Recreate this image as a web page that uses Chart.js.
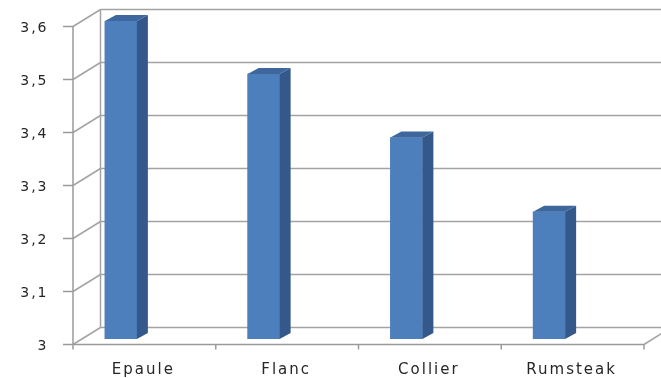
<!DOCTYPE html>
<html>
<head>
<meta charset="utf-8">
<script src="https://cdn.jsdelivr.net/npm/chart.js@4/dist/chart.umd.min.js"></script>
<style>
  html, body { margin: 0; padding: 0; background: #ffffff; }
  #wrap { width: 661px; height: 378px; }
</style>
</head>
<body>
<div id="wrap"><canvas id="c" width="661" height="378"></canvas></div>
<script>
// Values per cut
const categories = ['Epaule', 'Flanc', 'Collier', 'Rumsteak'];
const values = [3.6, 3.5, 3.38, 3.24];

// Value axis ticks (French decimal comma)
const yTickValues = [3, 3.1, 3.2, 3.3, 3.4, 3.5, 3.6];
const yTickLabels = ['3', '3,1', '3,2', '3,3', '3,4', '3,5', '3,6'];

// 3D look: front plane offset from the bar plane, wall depth, bar depth
const FRONT_DX = 23.5, FRONT_DY = 5.5;
const WALL_DX = 27.5, WALL_DY = -17;
const BAR_DX = 11, BAR_DY = -6;

const GRID = '#a3a3a3';
const AXIS = '#9a9a9a';
const BAR_FRONT = '#4D7FBC';
const BAR_SIDE = '#34588A';
const BAR_TOP = '#3D679D';

function line(ctx, x1, y1, x2, y2) {
  ctx.beginPath();
  ctx.moveTo(x1, y1);
  ctx.lineTo(x2, y2);
  ctx.stroke();
}

// Walls, floor, gridlines and tick marks of the 3D frame
const frame3d = {
  id: 'frame3d',
  beforeDraw(chart) {
    chart.ctx.letterSpacing = '2px';
  },
  beforeDatasetsDraw(chart) {
    const ctx = chart.ctx;
    const xs = chart.scales.x, ys = chart.scales.y;
    const x0 = xs.left + FRONT_DX, x1 = xs.right + FRONT_DX;
    const yAt = v => ys.getPixelForValue(v) + FRONT_DY;
    const yMin = yAt(yTickValues[0]);
    const yMax = yAt(yTickValues[yTickValues.length - 1]);
    ctx.save();
    ctx.lineCap = 'butt';
    ctx.lineWidth = 1.5;
    ctx.strokeStyle = GRID;
    yTickValues.forEach(v => {
      const y = yAt(v);
      line(ctx, x0, y, x0 + WALL_DX, y + WALL_DY);
      line(ctx, x0 + WALL_DX, y + WALL_DY, x1 + WALL_DX + 20, y + WALL_DY);
    });
    // back wall left edge
    line(ctx, x0 + WALL_DX, yMax + WALL_DY, x0 + WALL_DX, yMin + WALL_DY);
    // floor right edge
    line(ctx, x1, yMin, x1 + WALL_DX, yMin + WALL_DY);

    ctx.strokeStyle = AXIS;
    // value axis and tick marks
    line(ctx, x0, yMax, x0, yMin);
    yTickValues.forEach(v => {
      const y = yAt(v);
      line(ctx, x0 - 10, y, x0, y);
    });
    // category axis and tick marks at category boundaries
    line(ctx, x0, yMin, x1, yMin);
    const n = categories.length;
    for (let i = 0; i <= n; i++) {
      const x = x0 + (x1 - x0) * i / n;
      line(ctx, x, yMin, x, yMin + 5);
    }
    ctx.restore();
  },
  afterDatasetsDraw(chart) {
    const ctx = chart.ctx;
    const meta = chart.getDatasetMeta(0);
    ctx.save();
    meta.data.forEach(el => {
      const { x, y, base, width } = el.getProps(['x', 'y', 'base', 'width'], true);
      const l = x - width / 2, r = x + width / 2;
      // side face
      ctx.fillStyle = BAR_SIDE;
      ctx.beginPath();
      ctx.moveTo(r, y);
      ctx.lineTo(r + BAR_DX, y + BAR_DY);
      ctx.lineTo(r + BAR_DX, base + BAR_DY);
      ctx.lineTo(r, base);
      ctx.closePath();
      ctx.fill();
      // top face
      ctx.fillStyle = BAR_TOP;
      ctx.beginPath();
      ctx.moveTo(l, y);
      ctx.lineTo(l + BAR_DX, y + BAR_DY);
      ctx.lineTo(r + BAR_DX, y + BAR_DY);
      ctx.lineTo(r, y);
      ctx.closePath();
      ctx.fill();
    });
    ctx.restore();
  }
};

new Chart(document.getElementById('c'), {
  type: 'bar',
  data: {
    labels: categories,
    datasets: [{
      data: values,
      base: 3,
      backgroundColor: BAR_FRONT,
      borderWidth: 0,
      barThickness: 32
    }]
  },
  options: {
    responsive: false,
    animation: false,
    events: [],
    layout: { padding: { top: 21, right: 40.5, left: 0, bottom: 0 } },
    plugins: {
      legend: { display: false },
      tooltip: { enabled: false }
    },
    scales: {
      x: {
        grid: { display: false, drawTicks: false },
        border: { display: false },
        ticks: {
          color: '#262626',
          font: { family: 'DejaVu Sans', size: 15 },
          padding: 22,
          labelOffset: FRONT_DX - 1,
          maxRotation: 0,
          autoSkip: false
        },
        afterFit(scale) { scale.height = 39; }
      },
      y: {
        min: 3,
        max: 3.6,
        grid: { display: false, drawTicks: false },
        border: { display: false },
        afterBuildTicks(scale) {
          scale.ticks = yTickValues.map(v => ({ value: v }));
        },
        ticks: {
          color: '#262626',
          font: { family: 'DejaVu Sans', size: 14 },
          padding: 1,
          labelOffset: 7,
          callback: (v, i) => yTickLabels[i]
        },
        afterFit(scale) { scale.width = 49.5; }
      }
    }
  },
  plugins: [frame3d]
});
</script>
</body>
</html>
